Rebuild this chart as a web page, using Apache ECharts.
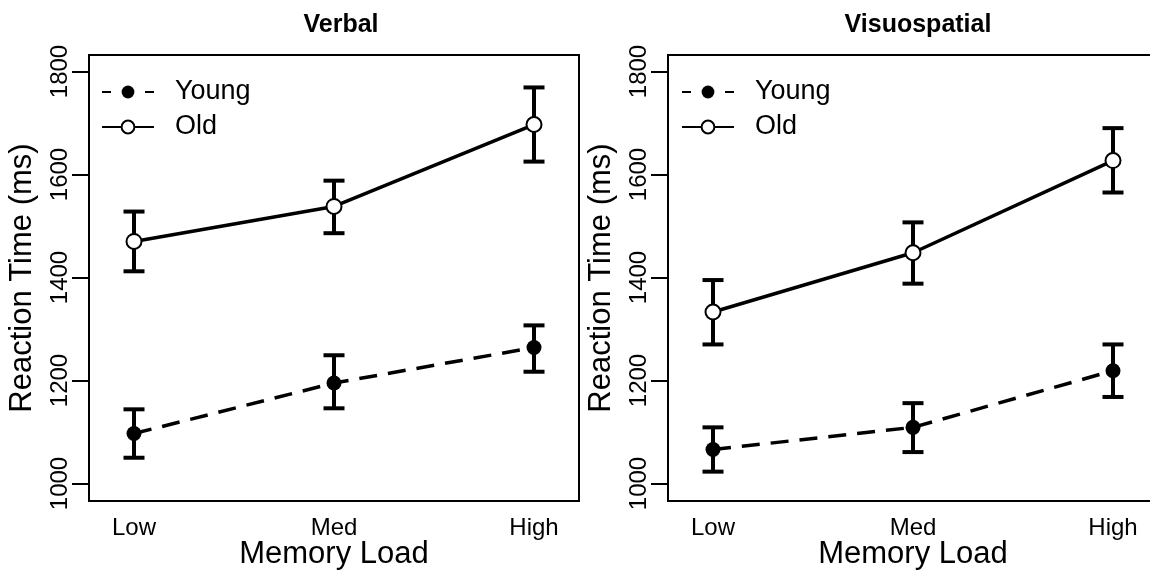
<!DOCTYPE html>
<html>
<head>
<meta charset="utf-8">
<script src="https://cdn.jsdelivr.net/npm/echarts@6/dist/echarts.min.js"></script>
<style>
  html, body { margin: 0; padding: 0; background: #fff; }
  #chart { width: 1150px; height: 571px; }
</style>
</head>
<body>
<div id="chart"></div>
<script>
// memory load levels
const categories = ['Low', 'Med', 'High'];
const yTicks = [1000, 1200, 1400, 1600, 1800];

// Verbal panel
const verbalYoung = [1097, 1195, 1264];
const verbalYoungLo = [1050, 1146, 1217];
const verbalYoungHi = [1144, 1249, 1307];
const verbalOld = [1470, 1538, 1697];
const verbalOldLo = [1412, 1486, 1625];
const verbalOldHi = [1528, 1588, 1769];

// Visuospatial panel
const visuoYoung = [1066, 1109, 1219];
const visuoYoungLo = [1023, 1061, 1168];
const visuoYoungHi = [1109, 1156, 1270];
const visuoOld = [1333, 1448, 1627];
const visuoOldLo = [1270, 1388, 1565];
const visuoOldHi = [1395, 1507, 1690];

const FONT = '"Liberation Sans", Arial, Helvetica, sans-serif';

function pts(vals) {
  return vals.map((v, i) => [i + 1, v]);
}
function bars(lo, hi) {
  return lo.map((v, i) => [i + 1, v, hi[i]]);
}

function errorBars(idx, lo, hi) {
  return {
    type: 'custom',
    xAxisIndex: idx,
    yAxisIndex: idx,
    z: 1,
    silent: true,
    data: bars(lo, hi),
    renderItem: function (params, api) {
      const top = api.coord([api.value(0), api.value(2)]);
      const bot = api.coord([api.value(0), api.value(1)]);
      const hw = 10.5;
      const st = { stroke: '#000', lineWidth: 4 };
      return {
        type: 'group',
        children: [
          { type: 'line', shape: { x1: top[0], y1: top[1], x2: bot[0], y2: bot[1] }, style: st },
          { type: 'line', shape: { x1: top[0] - hw, y1: top[1], x2: top[0] + hw, y2: top[1] }, style: st },
          { type: 'line', shape: { x1: bot[0] - hw, y1: bot[1], x2: bot[0] + hw, y2: bot[1] }, style: st }
        ]
      };
    }
  };
}

function youngLine(idx, vals) {
  return {
    name: 'Young',
    type: 'line',
    xAxisIndex: idx,
    yAxisIndex: idx,
    z: 3,
    data: pts(vals),
    symbol: 'circle',
    symbolSize: 15,
    itemStyle: { color: '#000' },
    lineStyle: { color: '#000', width: 3.5, type: [18, 11] }
  };
}

function oldLine(idx, vals) {
  return {
    name: 'Old',
    type: 'line',
    xAxisIndex: idx,
    yAxisIndex: idx,
    z: 3,
    data: pts(vals),
    symbol: 'circle',
    symbolSize: 15,
    itemStyle: { color: '#fff', borderColor: '#000', borderWidth: 2 },
    lineStyle: { color: '#000', width: 3.5 }
  };
}

function xAxis(idx) {
  return {
    type: 'value',
    gridIndex: idx,
    min: 0.775,
    max: 3.225,
    name: 'Memory Load',
    nameLocation: 'middle',
    nameGap: 38,
    nameMoveOverlap: false,
    nameTextStyle: { fontFamily: FONT, fontSize: 31, color: '#000' },
    axisLine: { show: true, lineStyle: { color: '#000', width: 2 } },
    axisTick: { show: false },
    splitLine: { show: false },
    axisLabel: {
      customValues: [1, 2, 3],
      formatter: v => categories[Math.round(v) - 1],
      margin: 15,
      fontFamily: FONT,
      fontSize: 24,
      color: '#000'
    }
  };
}

function yAxis(idx) {
  return {
    type: 'value',
    gridIndex: idx,
    min: 966,
    max: 1832,
    name: 'Reaction Time (ms)',
    nameLocation: 'middle',
    nameRotate: 90,
    nameGap: 51,
    nameMoveOverlap: false,
    nameTextStyle: { fontFamily: FONT, fontSize: 31, color: '#000' },
    axisLine: { show: true, lineStyle: { color: '#000', width: 2 } },
    axisTick: { show: true, customValues: yTicks, length: 17, lineStyle: { color: '#000', width: 2 } },
    splitLine: { show: false },
    axisLabel: {
      customValues: yTicks,
      formatter: v => String(v),
      rotate: 90,
      margin: 17,
      fontFamily: FONT,
      fontSize: 24,
      color: '#000'
    }
  };
}

function legend(left) {
  return {
    data: [
      { name: 'Young', lineStyle: { width: 2, type: [9, 34] } },
      { name: 'Old', lineStyle: { width: 2, type: 'solid' } }
    ],
    orient: 'vertical',
    left: left,
    top: 73,
    itemWidth: 52,
    itemHeight: 16,
    itemGap: 7,
    selectedMode: false,
    textStyle: { fontFamily: FONT, fontSize: 27, color: '#000', lineHeight: 28, padding: [0, 0, 0, 16] }
  };
}

const chart = echarts.init(document.getElementById('chart'));
chart.setOption({
  backgroundColor: '#fff',
  animation: false,
  title: [
    { text: 'Verbal', left: 336, top: 8, textAlign: 'center',
      textStyle: { fontFamily: FONT, fontSize: 25, fontWeight: 'bold', color: '#000' } },
    { text: 'Visuospatial', left: 913, top: 8, textAlign: 'center',
      textStyle: { fontFamily: FONT, fontSize: 25, fontWeight: 'bold', color: '#000' } }
  ],
  legend: [legend(96), legend(676)],
  grid: [
    { left: 89, top: 55, width: 490, height: 446, show: true, borderColor: '#000', borderWidth: 2, outerBoundsMode: 'none' },
    { left: 668, top: 55, width: 490, height: 446, show: true, borderColor: '#000', borderWidth: 2, outerBoundsMode: 'none' }
  ],
  xAxis: [xAxis(0), xAxis(1)],
  yAxis: [yAxis(0), yAxis(1)],
  series: [
    errorBars(0, verbalYoungLo, verbalYoungHi),
    errorBars(0, verbalOldLo, verbalOldHi),
    youngLine(0, verbalYoung),
    oldLine(0, verbalOld),
    errorBars(1, visuoYoungLo, visuoYoungHi),
    errorBars(1, visuoOldLo, visuoOldHi),
    youngLine(1, visuoYoung),
    oldLine(1, visuoOld)
  ]
});
</script>
</body>
</html>
